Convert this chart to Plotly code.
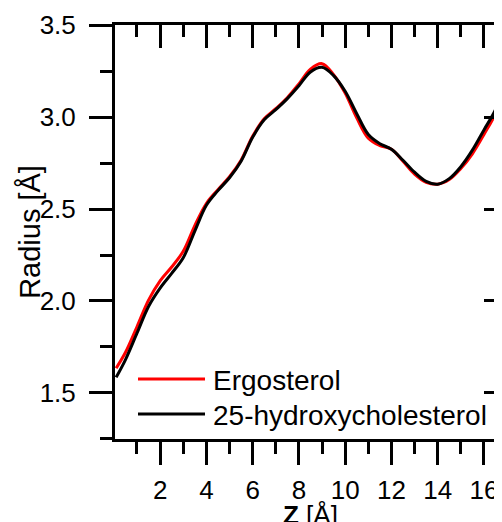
import plotly.graph_objects as go

# ---- data ----
z = [0.1, 0.5, 1.0, 1.5, 2.0, 2.5, 3.0, 3.5, 4.0, 4.5, 5.0, 5.5, 6.0, 6.5, 7.0, 7.5,
     8.0, 8.5, 9.0, 9.5, 10.0, 10.5, 11.0, 11.5, 12.0, 12.5, 13.0, 13.5, 14.0, 14.5,
     15.0, 15.5, 16.0, 16.5, 16.8]
ergosterol = [1.635, 1.72, 1.86, 2.005, 2.11, 2.185, 2.27, 2.41, 2.53, 2.605, 2.675,
              2.765, 2.895, 2.99, 3.045, 3.105, 3.18, 3.26, 3.29, 3.23, 3.13, 2.995,
              2.885, 2.845, 2.825, 2.76, 2.69, 2.645, 2.635, 2.66, 2.72, 2.80, 2.905,
              3.02, 3.14]
hydroxycholesterol = [1.585, 1.68, 1.825, 1.97, 2.07, 2.15, 2.235, 2.38, 2.52, 2.60,
                      2.67, 2.76, 2.89, 2.985, 3.04, 3.10, 3.17, 3.245, 3.27, 3.225,
                      3.14, 3.018, 2.905, 2.855, 2.825, 2.765, 2.70, 2.65, 2.635, 2.665,
                      2.73, 2.82, 2.93, 3.04, 3.15]
series_names = ["Ergosterol", "25-hydroxycholesterol"]
series_colors = ["#ff0000", "#000000"]

x_range = [0.05, 16.78]
y_range = [1.2499, 3.5001]

FONT = "Liberation Sans, Arial, sans-serif"

fig = go.Figure()
for name, vals, col in zip(series_names, [ergosterol, hydroxycholesterol], series_colors):
    fig.add_trace(go.Scatter(x=z, y=vals, mode="lines", name=name,
                             line=dict(color=col, width=3, shape="spline", smoothing=1),
                             showlegend=False))
# helper trace so mirror axes render
fig.add_trace(go.Scatter(x=[None], y=[None], xaxis="x2", yaxis="y2",
                         showlegend=False, hoverinfo="skip"))

common = dict(showgrid=False, zeroline=False, linecolor="black", linewidth=3,
              tickcolor="black", tickwidth=3, automargin=False,
              tickfont=dict(family=FONT, size=26, color="black"))

# page has an 8px body margin: figure is laid out relative to (8, 8)
fig.update_layout(
    width=494, height=514,
    margin=dict(l=107, r=0, t=17, b=83),
    paper_bgcolor="white", plot_bgcolor="white",
    xaxis=dict(range=x_range, tickmode="linear", tick0=0, dtick=2,
               ticks="outside", ticklen=23, showline=True, ticklabelstandoff=3,
               minor=dict(dtick=1, tick0=0, ticks="outside", ticklen=12,
                          tickwidth=3, tickcolor="black"),
               **common),
    yaxis=dict(range=y_range, tickmode="linear", tick0=0, dtick=0.5, tickformat=".1f",
               ticks="outside", ticklen=23, showline=True, ticklabelstandoff=8,
               minor=dict(dtick=0.25, tick0=0, ticks="outside", ticklen=12,
                          tickwidth=3, tickcolor="black"),
               **common),
    xaxis2=dict(overlaying="x", side="top", anchor="y", matches="x", range=x_range,
                tickmode="linear", tick0=0, dtick=2, ticks="inside", ticklen=23,
                showticklabels=False, showline=True,
                minor=dict(dtick=1, tick0=0, ticks="inside", ticklen=12,
                           tickwidth=3, tickcolor="black"),
                **common),
    yaxis2=dict(overlaying="y", side="right", anchor="x", matches="y", range=y_range,
                tickmode="linear", tick0=0, dtick=0.5, ticks="inside", ticklen=18,
                showticklabels=False, showline=False,
                minor=dict(dtick=0.25, tick0=0, ticks="inside", ticklen=7,
                           tickwidth=3, tickcolor="black"),
                **common),
)

# axis titles
fig.add_annotation(text="Radius [Å]", textangle=-90, xref="paper", yref="paper",
                   x=-0.22, y=0.5, xanchor="center", yanchor="middle", showarrow=False,
                   font=dict(family=FONT, size=29, color="black"))
fig.add_annotation(text="<b>Z</b> [Å]", xref="paper", yref="paper",
                   x=0.506, y=-0.183, xanchor="center", yanchor="middle", showarrow=False,
                   font=dict(family=FONT, size=26, color="black"))

# legend (drawn manually to match sample length); positions in page pixels
def px_x(p):
    return (p - 115) / 387.0

def px_y(p):
    return (439 - p) / 414.0

for i, (name, col) in enumerate(zip(series_names, series_colors)):
    yy = 379 + 35 * i
    fig.add_shape(type="line", xref="paper", yref="paper",
                  x0=px_x(138), x1=px_x(205), y0=px_y(yy), y1=px_y(yy),
                  line=dict(color=col, width=3))
    fig.add_annotation(text=name, xref="paper", yref="paper", x=px_x(211), y=px_y(yy + 1),
                       xanchor="left", yanchor="middle", showarrow=False,
                       font=dict(family=FONT, size=28, color="black"))

fig.write_html("out.html")
